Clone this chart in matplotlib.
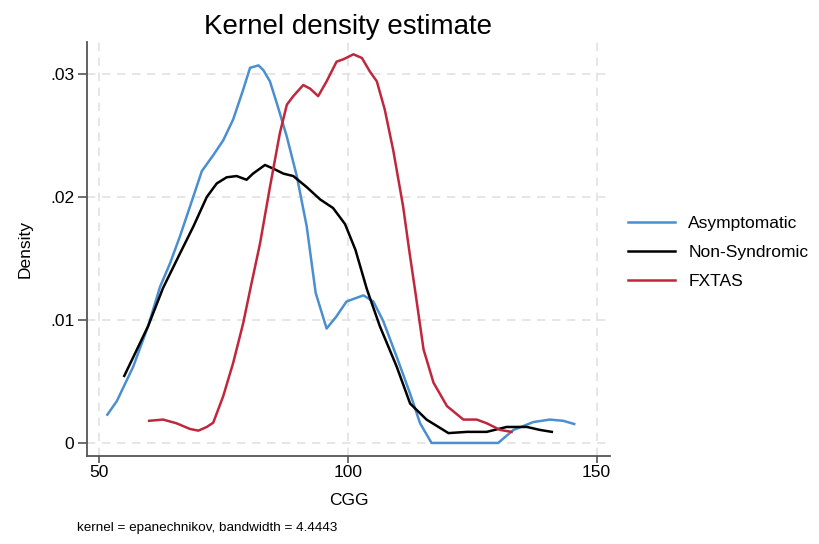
import matplotlib
matplotlib.use("Agg")
import matplotlib.pyplot as plt

# values
asym_x = [51.6, 53.5, 56.8, 59.8, 62.2, 64.2, 66.2, 68.2, 70.6, 72.9, 74.9, 76.9, 78.9,
          80.3, 82.0, 83.0, 84.3, 85.7, 87.7, 89.7, 91.7, 93.5, 95.7, 97.7, 99.7, 103.1,
          105.1, 107.1, 109.8, 112.5, 114.5, 116.8, 130.2, 133.3, 137.3, 140.6, 143.3, 145.5]
asym_y = [0.0023, 0.0034, 0.0062, 0.0095, 0.0127, 0.0146, 0.0168, 0.0192, 0.0221, 0.0234,
          0.0246, 0.0263, 0.0287, 0.0305, 0.0307, 0.0303, 0.0294, 0.0276, 0.0249, 0.0217,
          0.0176, 0.0122, 0.0093, 0.0103, 0.0115, 0.0120, 0.0115, 0.0099, 0.0070, 0.0040,
          0.0016, 0.0, 0.0, 0.00106, 0.0017, 0.0019, 0.0018, 0.00154]

nonsyn_x = [55.0, 59.8, 62.8, 66.2, 68.9, 71.6, 73.6, 75.6, 77.6, 79.6, 80.9, 83.3, 85.0,
            87.0, 89.0, 91.7, 94.4, 97.0, 99.4, 101.5, 103.8, 106.4, 109.8, 112.5, 115.8,
            120.2, 123.9, 127.9, 131.9, 136.0, 138.6, 141.0]
nonsyn_y = [0.00545, 0.0095, 0.0126, 0.0154, 0.0176, 0.0200, 0.0211, 0.0216, 0.0217, 0.0214,
            0.0219, 0.0226, 0.0223, 0.0219, 0.0217, 0.0208, 0.0198, 0.0191, 0.0178, 0.0157,
            0.0125, 0.0095, 0.0062, 0.0032, 0.0019, 0.0008, 0.0009, 0.0009, 0.0013, 0.0013,
            0.00106, 0.0009]

fxtas_x = [60.0, 62.8, 65.5, 68.2, 69.9, 71.6, 72.9, 74.9, 76.9, 78.9, 80.5, 82.3, 84.3,
           86.3, 87.7, 89.0, 91.0, 92.4, 94.0, 95.7, 97.7, 99.1, 101.1, 102.8, 104.4, 105.8,
           107.4, 109.1, 111.1, 112.3, 113.5, 115.2, 117.2, 119.9, 123.2, 125.9, 127.9,
           130.6, 132.9]
fxtas_y = [0.0018, 0.0019, 0.0016, 0.00114, 0.0010, 0.0013, 0.00165, 0.0038, 0.0065, 0.0097,
           0.0128, 0.0162, 0.0208, 0.0252, 0.0275, 0.0282, 0.0291, 0.0288, 0.0282, 0.0294,
           0.0310, 0.0312, 0.0316, 0.0313, 0.0302, 0.0294, 0.0271, 0.0238, 0.0192, 0.0157,
           0.0124, 0.0076, 0.0049, 0.0030, 0.0019, 0.0019, 0.0016, 0.00106, 0.0009]

x_ticks = [50, 100, 150]
y_ticks = [0, 0.01, 0.02, 0.03]
y_labels = ["0", ".01", ".02", ".03"]

plt.rcParams['font.family'] = ['Liberation Sans', 'DejaVu Sans']

fig = plt.figure(figsize=(8.19, 5.44), dpi=100)
ax = fig.add_axes([0.1062, 0.1618, 0.6386, 0.761])

ax.plot(asym_x, asym_y, color="#4a8fcf", lw=1.8, label="Asymptomatic")
ax.plot(nonsyn_x, nonsyn_y, color="black", lw=1.8, label="Non-Syndromic")
ax.plot(fxtas_x, fxtas_y, color="#c0273d", lw=1.8, label="FXTAS")

ax.set_xlim(47.5, 152.7)
ax.set_ylim(-0.00106, 0.0326)
ax.set_xticks(x_ticks)
ax.set_yticks(y_ticks)
ax.set_yticklabels(y_labels)
ax.grid(True, color="#e2e2e2", linestyle=(0, (5, 4)), lw=1.2)
ax.set_axisbelow(True)

for s in ["top", "right"]:
    ax.spines[s].set_visible(False)
for s in ["left", "bottom"]:
    ax.spines[s].set_color("#555555")
    ax.spines[s].set_linewidth(1.3)
ax.tick_params(direction="out", width=1.2, color="#555555", labelsize=12.5)
ax.tick_params(axis="x", length=5, pad=1.5)
ax.tick_params(axis="y", length=6.5, pad=2.5)

ax.set_xlabel("CGG", fontsize=12.5, labelpad=9)
ax.set_ylabel("Density", fontsize=12.5, labelpad=13)
ax.set_title("Kernel density estimate", fontsize=20, pad=6)

fig.text(77 / 819, 1 - 528 / 544, "kernel = epanechnikov, bandwidth = 4.4443",
         fontsize=9.7, va="center", ha="left")

ax.legend(loc="center left", bbox_to_anchor=(1.005, 0.492), frameon=False,
          fontsize=12.5, handlelength=2.7, handletextpad=0.75, labelspacing=0.8)

fig.savefig("out.png", dpi=100, facecolor="white")
